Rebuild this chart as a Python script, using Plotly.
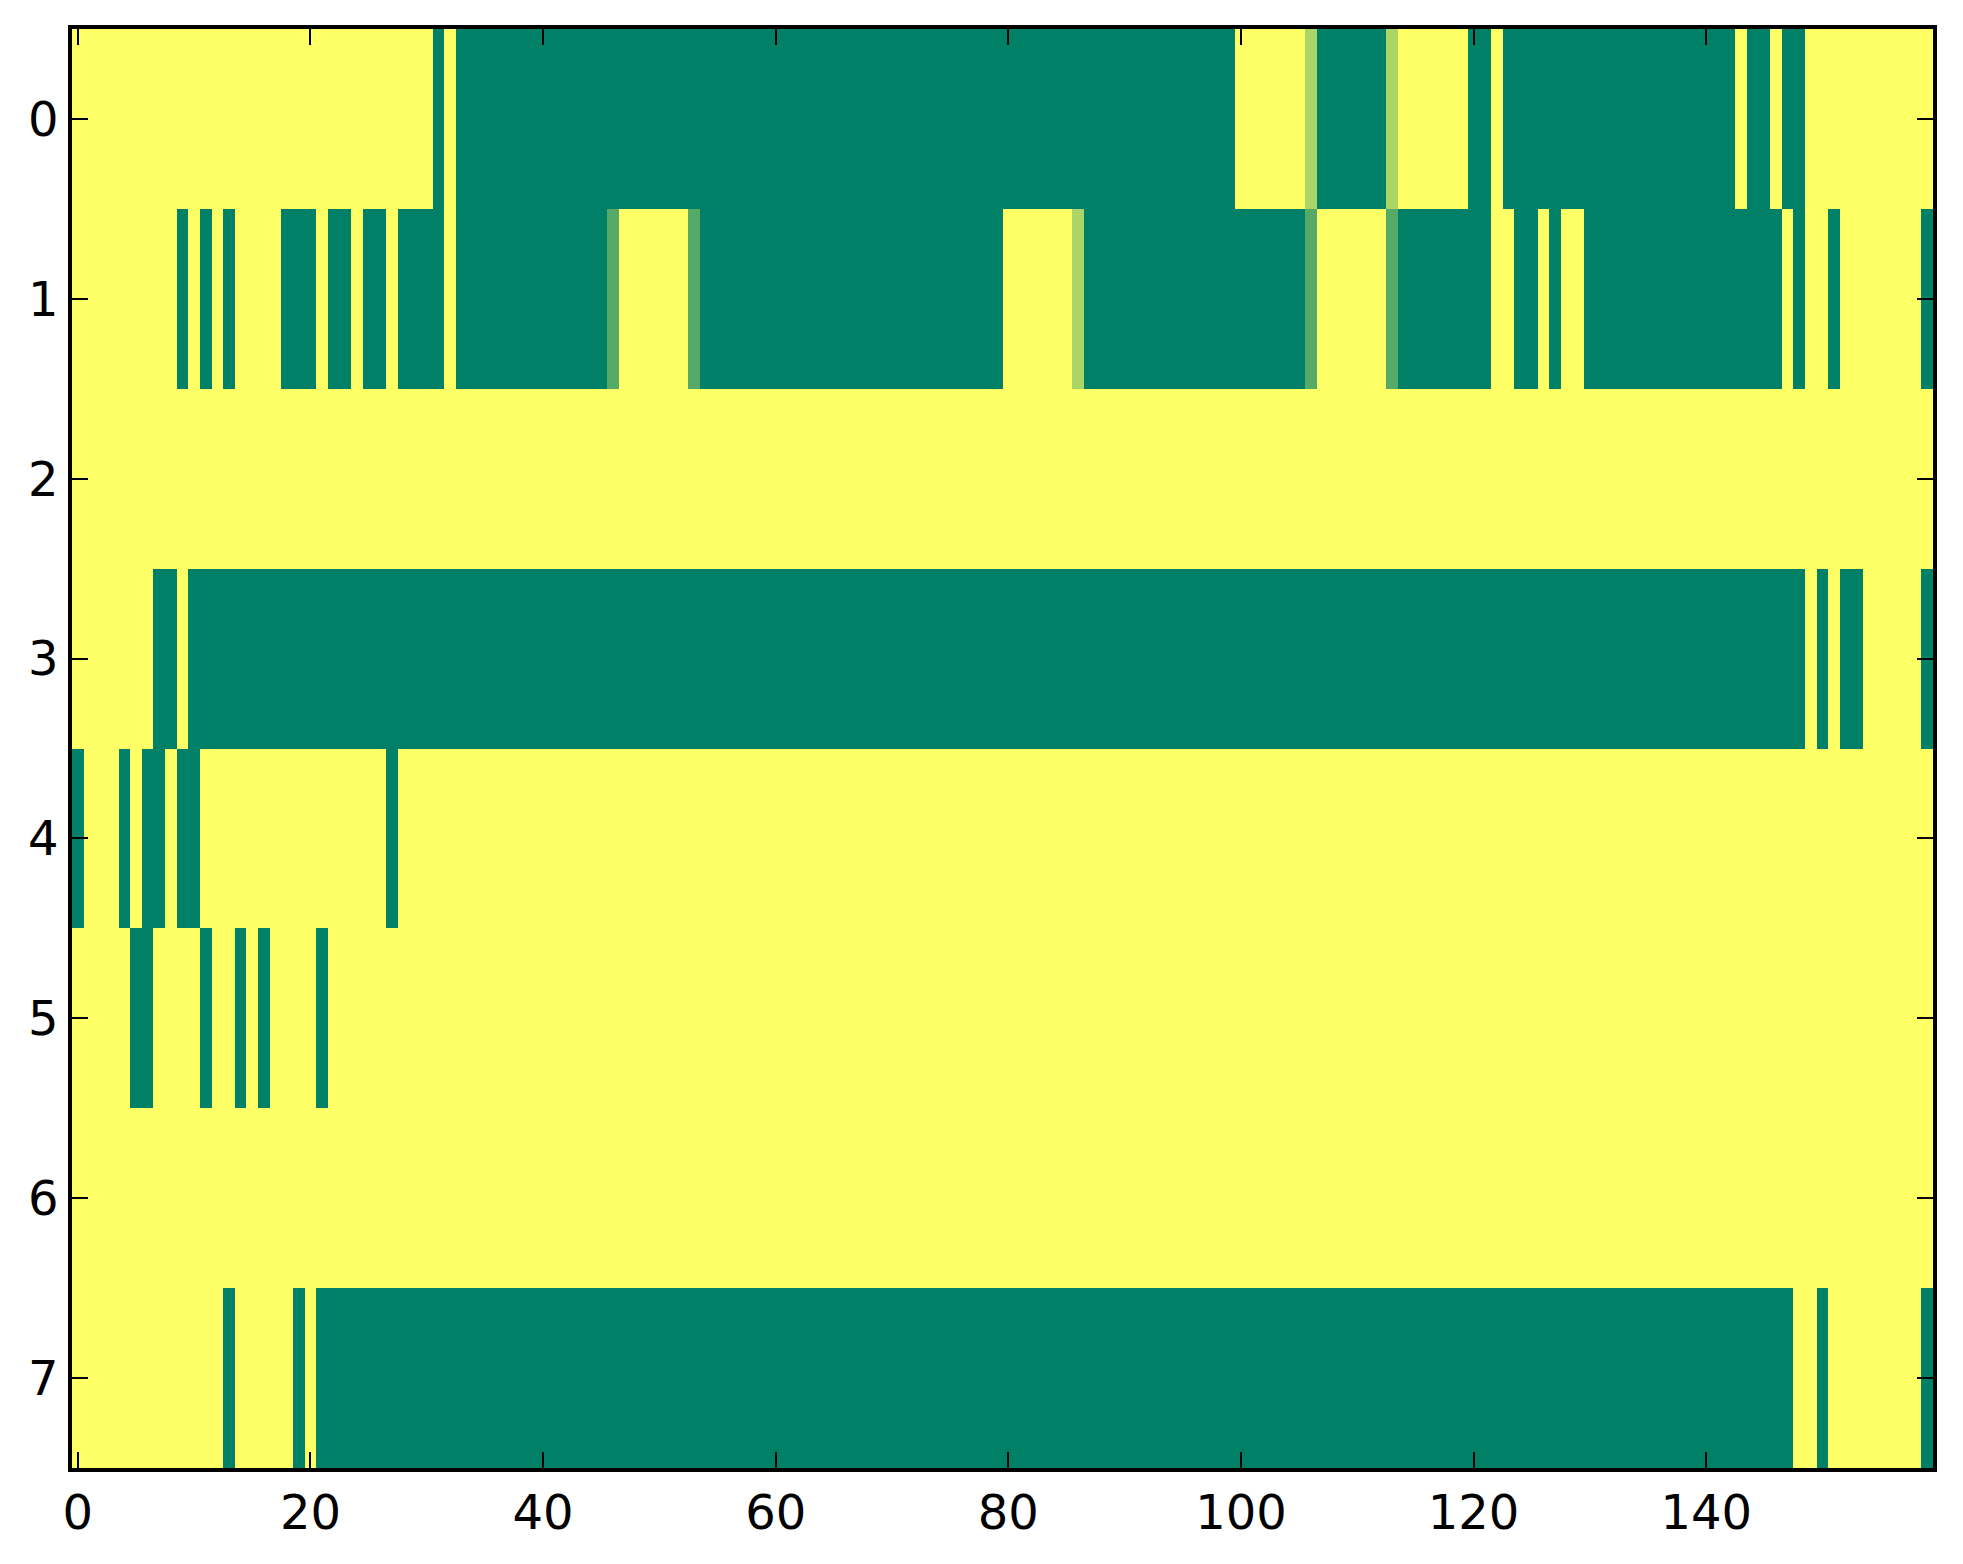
import plotly.graph_objects as go

# each row of the image as runs of (value, number of columns); 160 columns per row
# 0 = dark green, 1 = yellow, 0.33 / 0.67 = in-between greens (summer colormap)
row0 = [(1, 31), (0, 1), (1, 1), (0, 67), (1, 6), (0.67, 1), (0, 6), (0.67, 1),
        (1, 6), (0, 2), (1, 1), (0, 20), (1, 1), (0, 2), (1, 1), (0, 2), (1, 11)]
row1 = [(1, 9), (0, 1), (1, 1), (0, 1), (1, 1), (0, 1), (1, 4), (0, 3), (1, 1),
        (0, 2), (1, 1), (0, 2), (1, 1), (0, 4), (1, 1), (0, 13), (0.33, 1), (1, 6),
        (0.33, 1), (0, 26), (1, 6), (0.67, 1), (0, 19), (0.33, 1), (1, 6), (0.33, 1),
        (0, 8), (1, 2), (0, 2), (1, 1), (0, 1), (1, 2), (0, 17), (1, 1), (0, 1),
        (1, 2), (0, 1), (1, 7), (0, 1)]
row2 = [(1, 160)]
row3 = [(1, 7), (0, 2), (1, 1), (0, 139), (1, 1), (0, 1), (1, 1), (0, 2), (1, 5), (0, 1)]
row4 = [(0, 1), (1, 3), (0, 1), (1, 1), (0, 2), (1, 1), (0, 2), (1, 16), (0, 1), (1, 132)]
row5 = [(1, 5), (0, 2), (1, 4), (0, 1), (1, 2), (0, 1), (1, 1), (0, 1), (1, 4), (0, 1), (1, 138)]
row6 = [(1, 160)]
row7 = [(1, 13), (0, 1), (1, 5), (0, 1), (1, 1), (0, 127), (1, 2), (0, 1), (1, 8), (0, 1)]

rows = [row0, row1, row2, row3, row4, row5, row6, row7]

x_ticks = [0, 20, 40, 60, 80, 100, 120, 140]
y_ticks = [0, 1, 2, 3, 4, 5, 6, 7]

# summer colormap end points
SUMMER = [[0.0, "#008066"], [1.0, "#ffff66"]]


def expand(runs):
    out = []
    for val, n in runs:
        out.extend([val] * n)
    return out


z = [expand(r) for r in rows]
for r in z:
    assert len(r) == 160, len(r)

fig = go.Figure()
fig.add_trace(
    go.Heatmap(
        z=z,
        x=list(range(160)),
        y=list(range(len(rows))),
        colorscale=SUMMER,
        zmin=0,
        zmax=1,
        showscale=False,
        hoverinfo="skip",
    )
)

axis_style = dict(
    showgrid=False,
    zeroline=False,
    showline=True,
    linecolor="black",
    linewidth=3.5,
    mirror="ticks",
    ticks="inside",
    tickcolor="black",
    tickwidth=1.5,
    ticklen=16,
    tickfont=dict(family="DejaVu Sans", size=48, color="black"),
)

# page body has an 8px margin, so the figure is a bit smaller than the window
fig.update_layout(
    width=1947,
    height=1548,
    margin=dict(l=64, r=22, t=21, b=88),
    plot_bgcolor="white",
    paper_bgcolor="white",
    xaxis=dict(range=[-0.5, 159.5], tickvals=x_ticks, **axis_style),
    yaxis=dict(range=[7.5, -0.5], tickvals=y_ticks, **axis_style),
)

fig.write_html("out.html")
